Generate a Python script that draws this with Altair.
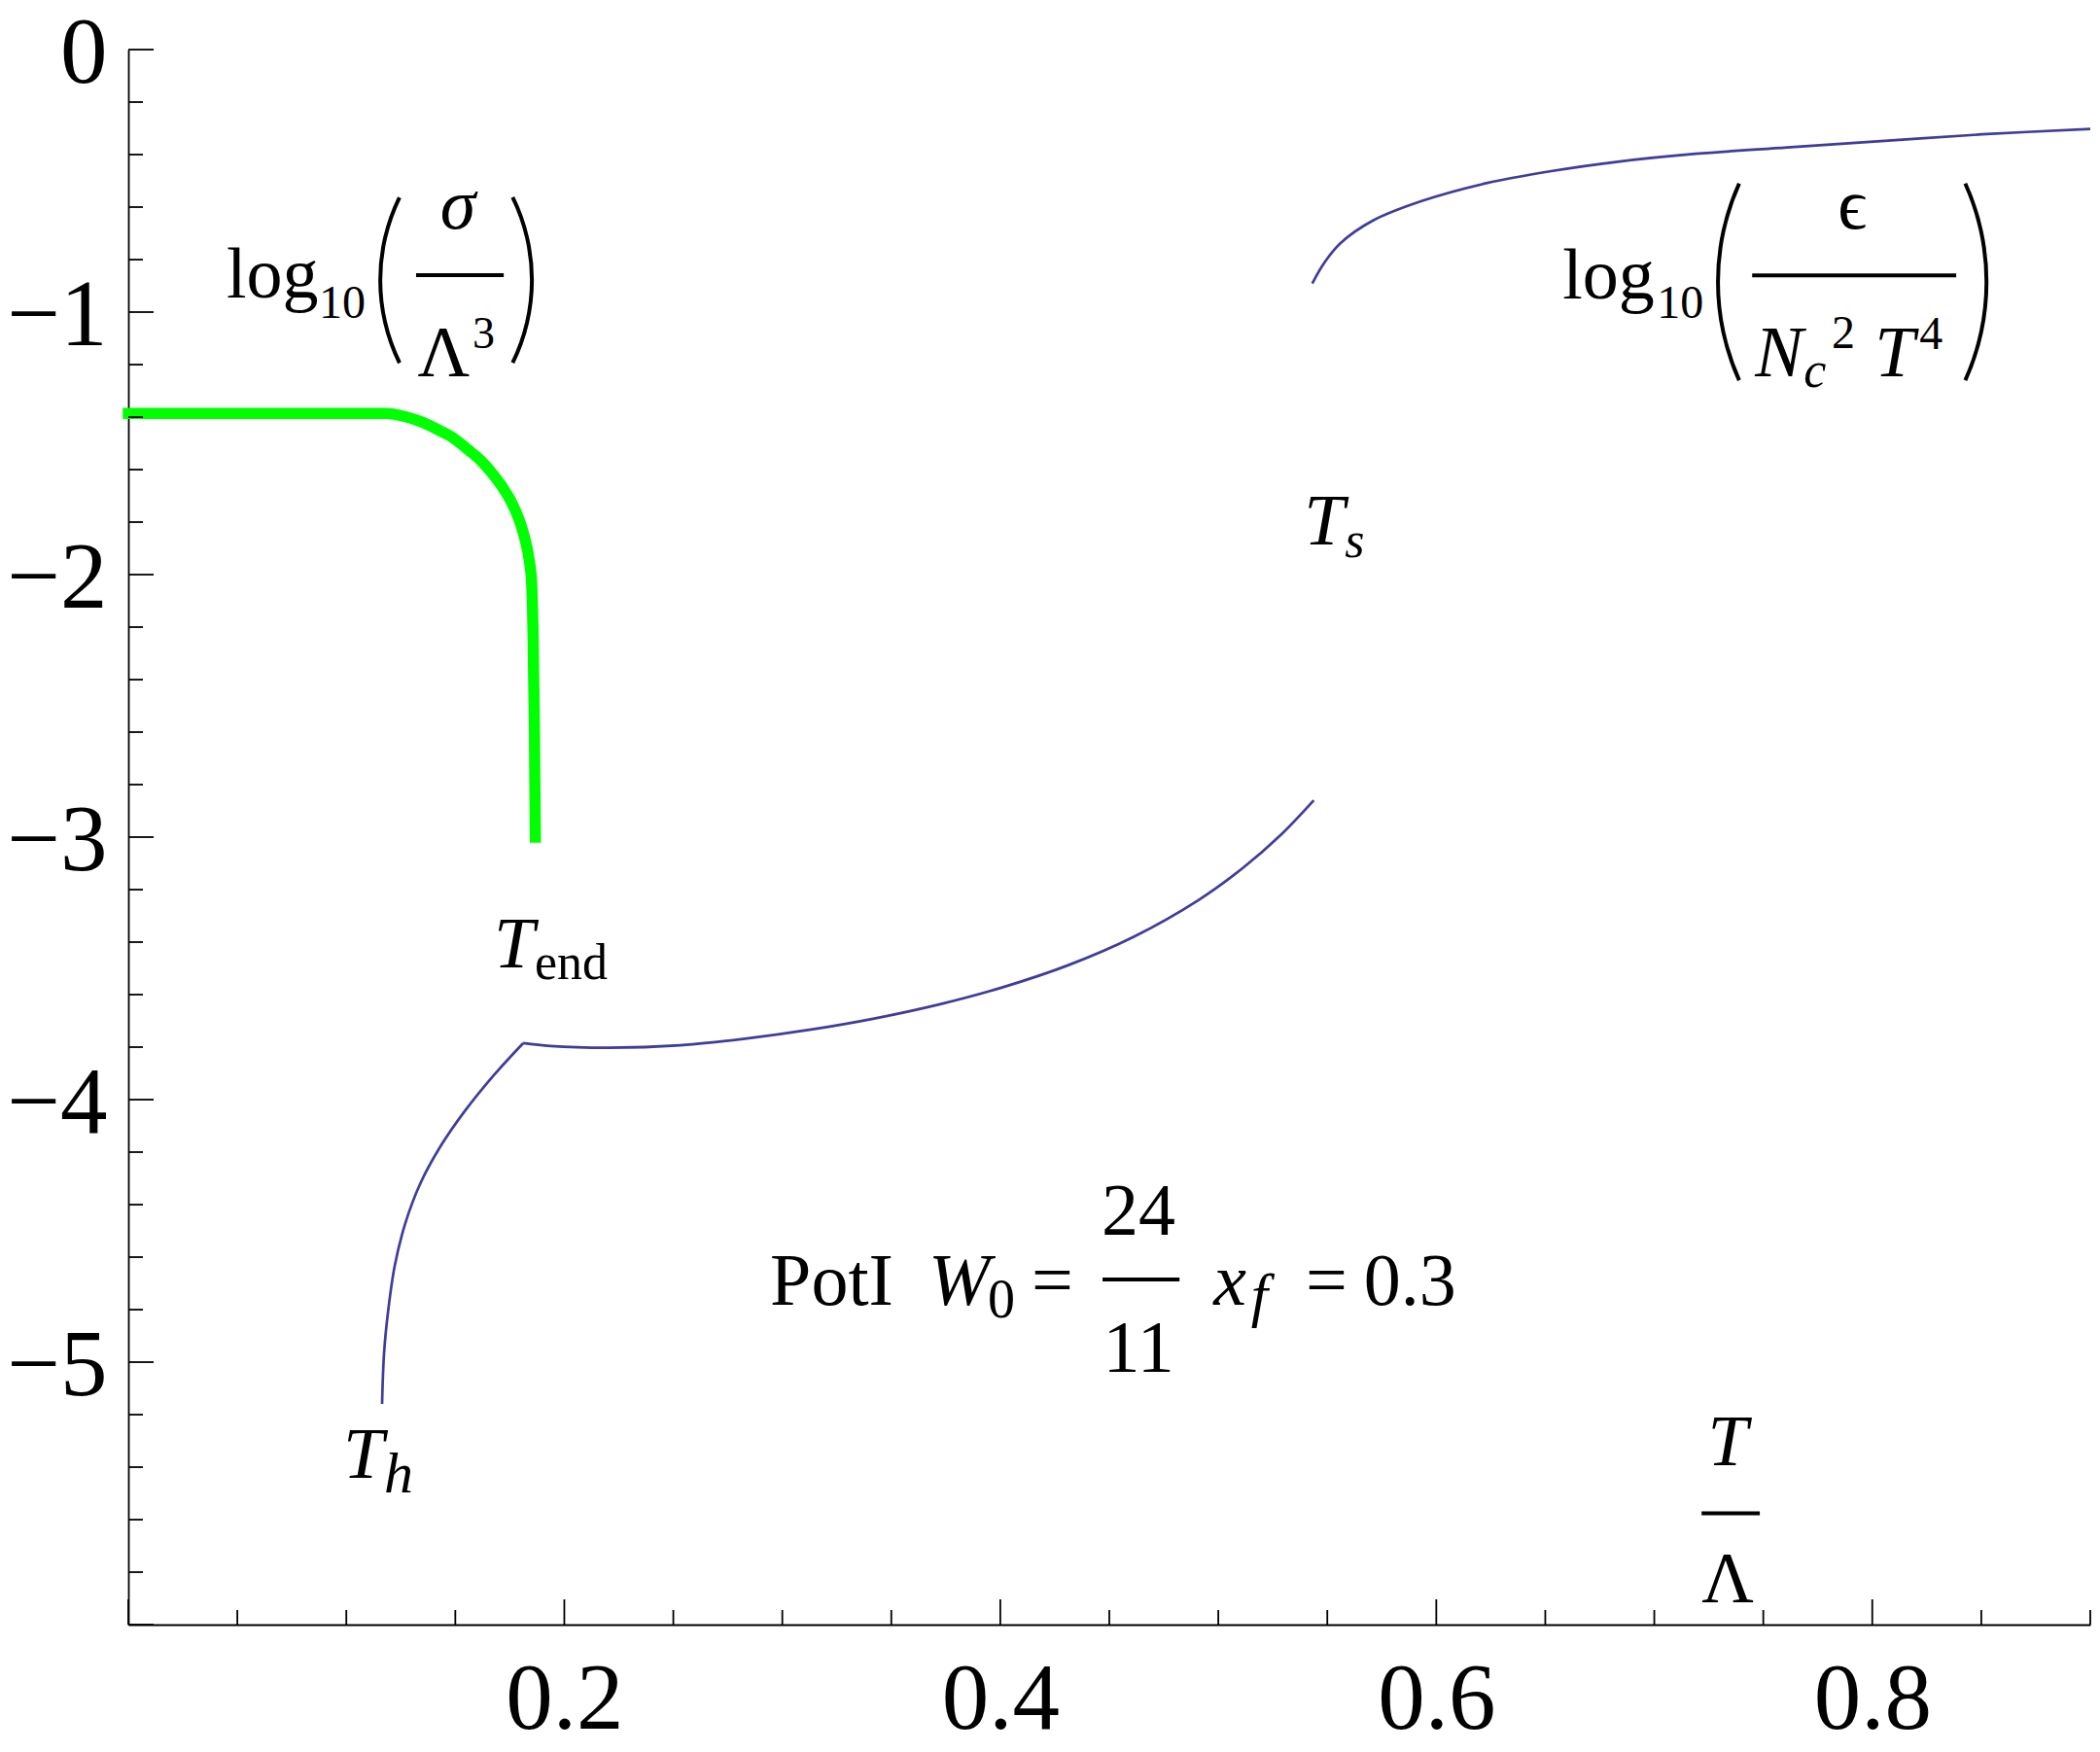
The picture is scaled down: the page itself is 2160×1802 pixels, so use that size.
import altair as alt
import pandas as pd

# ---------------- axis ticks / labels ----------------
x_tick_labels = [0.2, 0.4, 0.6, 0.8]
y_tick_labels = [0, -1, -2, -3, -4, -5]
x_major_ticks = [0.0, 0.2, 0.4, 0.6, 0.8]
x_minor_ticks = [0.05, 0.1, 0.15, 0.25, 0.3, 0.35, 0.45, 0.5, 0.55, 0.65, 0.7, 0.75, 0.85, 0.9]
y_major_ticks = [0, -1, -2, -3, -4, -5, -6]
y_minor_ticks = [-0.2, -0.4, -0.6, -0.8, -1.2, -1.4, -1.6, -1.8, -2.2, -2.4, -2.6, -2.8,
                 -3.2, -3.4, -3.6, -3.8, -4.2, -4.4, -4.6, -4.8, -5.2, -5.4, -5.6, -5.8]

# ---------------- curves (T/Lambda , log10 value) ----------------
sigma_x = [0.0, 0.04, 0.08, 0.118, 0.127, 0.135, 0.1425, 0.1495, 0.156, 0.162, 0.167, 0.1715,
           0.1755, 0.179, 0.1818, 0.1838, 0.185, 0.1857, 0.1863, 0.1867]
sigma_y = [-1.386, -1.386, -1.386, -1.386, -1.398, -1.42, -1.45, -1.482, -1.525, -1.568, -1.615,
           -1.665, -1.72, -1.785, -1.86, -1.94, -2.03, -2.24, -2.6, -3.0]

eps_h_x = [0.1164, 0.1173, 0.1191, 0.1222, 0.1271, 0.1338, 0.1432, 0.1543, 0.1668, 0.1811]
eps_h_y = [-5.159, -4.967, -4.811, -4.633, -4.470, -4.322, -4.178, -4.044, -3.915, -3.785]

eps_mid_x = [0.1811, 0.1937, 0.2204, 0.2531, 0.2828, 0.3125, 0.3422, 0.3719, 0.4016, 0.4313,
             0.461, 0.4907, 0.5114, 0.5289, 0.5438]
eps_mid_y = [-3.785, -3.796, -3.8025, -3.793, -3.768, -3.734, -3.691, -3.6375, -3.5707, -3.4875,
             -3.3805, -3.2409, -3.1167, -2.99, -2.86]

eps_up_x = [0.5431, 0.5487, 0.5561, 0.571, 0.5933, 0.623, 0.6527, 0.6824, 0.719, 0.7611,
            0.8057, 0.8503, 0.9]
eps_up_y = [-0.891, -0.811, -0.737, -0.651, -0.577, -0.509, -0.463, -0.428, -0.397, -0.373,
            -0.348, -0.323, -0.302]

# ---------------- layout / style ----------------
W, H = 2018, 1620
FONT = "Liberation Serif, DejaVu Serif, serif"
BLUE = "#3f3d99"
GREEN = "#00ff00"
MAJ, MIN = 26, 15

xs = alt.Scale(domain=[0, 0.9], nice=False, zero=False)
ys = alt.Scale(domain=[-6, 0], nice=False, zero=False)

x_axis = alt.Axis(values=x_tick_labels, format=".1f", title=None, ticks=False, grid=False,
                  domainColor="black", domainWidth=1.8, labelFont=FONT, labelFontSize=97,
                  labelColor="black", labelPadding=29, labelFlush=False, labelOverlap=False)
y_axis = alt.Axis(values=y_tick_labels, title=None, ticks=False, grid=False,
                  domainColor="black", domainWidth=1.8, labelFont=FONT, labelFontSize=97,
                  labelColor="black", labelPadding=22, labelOffset=4, labelFlush=False,
                  labelOverlap=False,
                  labelExpr="datum.value == 0 ? '0' : '\u2212' + format(-datum.value, 'd')")


def X(field="x"):
    return alt.X(f"{field}:Q", scale=xs, axis=x_axis)


def Y(field="y"):
    return alt.Y(f"{field}:Q", scale=ys, axis=y_axis)


# blue energy-density curve
rows = []
for name, xv, yv in [("h", eps_h_x, eps_h_y), ("mid", eps_mid_x, eps_mid_y), ("up", eps_up_x, eps_up_y)]:
    for i, (a, b) in enumerate(zip(xv, yv)):
        rows.append({"branch": name, "order": i, "x": a, "y": b})
blue_df = pd.DataFrame(rows)
blue = alt.Chart(blue_df).mark_line(color=BLUE, strokeWidth=2.7, interpolate="catmull-rom").encode(
    x=X(), y=Y(), detail="branch:N", order="order:Q")

green_df = pd.DataFrame({"x": sigma_x, "y": sigma_y, "order": list(range(len(sigma_x)))})
green = alt.Chart(green_df).mark_line(color=GREEN, strokeWidth=11.5, strokeCap="square",
                                      interpolate="monotone").encode(x=X(), y=Y(), order="order:Q")

# inward tick marks
xmaj = alt.Chart(pd.DataFrame({"x": x_major_ticks})).mark_rule(color="black", strokeWidth=1.8).encode(
    x=X(), y=alt.value(H), y2=alt.value(H - MAJ))
xmin = alt.Chart(pd.DataFrame({"x": x_minor_ticks})).mark_rule(color="black", strokeWidth=1.8).encode(
    x=X(), y=alt.value(H), y2=alt.value(H - MIN))
ymaj = alt.Chart(pd.DataFrame({"y": y_major_ticks})).mark_rule(color="black", strokeWidth=1.8).encode(
    y=Y(), x=alt.value(0), x2=alt.value(MAJ))
ymin = alt.Chart(pd.DataFrame({"y": y_minor_ticks})).mark_rule(color="black", strokeWidth=1.8).encode(
    y=Y(), x=alt.value(0), x2=alt.value(MIN))

# ---------------- annotations (anchored in data coordinates) ----------------
# (text, x, y-baseline, font size, italic, align)
annotations = [
    ("log", 0.0450, -0.944, 74, False, "left"),
    ("10", 0.0874, -1.022, 48, False, "left"),
    ("\u03c3", 0.1512, -0.681, 74, True, "center"),
    ("\u039b", 0.1447, -1.243, 74, False, "center"),
    ("3", 0.1579, -1.137, 46, False, "left"),
    ("log", 0.6579, -0.947, 74, False, "left"),
    ("10", 0.7012, -1.021, 48, False, "left"),
    ("\u03f5", 0.7908, -0.681, 74, False, "center"),
    ("N", 0.7462, -1.243, 74, True, "left"),
    ("c", 0.7685, -1.285, 52, True, "left"),
    ("2", 0.7814, -1.137, 48, False, "left"),
    ("T", 0.8011, -1.243, 74, True, "left"),
    ("4", 0.8216, -1.141, 48, False, "left"),
    ("T", 0.5393, -1.885, 75, True, "left"),
    ("s", 0.5580, -1.933, 52, True, "left"),
    ("T", 0.1677, -3.496, 75, True, "left"),
    ("end", 0.1864, -3.542, 52, False, "left"),
    ("T", 0.0986, -5.439, 75, True, "left"),
    ("h", 0.1173, -5.496, 60, True, "left"),
    ("PotI", 0.2944, -4.781, 76, False, "left"),
    ("W", 0.3671, -4.781, 76, True, "left"),
    ("0", 0.3943, -4.830, 56, False, "left"),
    ("=", 0.4239, -4.781, 76, False, "center"),
    ("24", 0.4634, -4.515, 76, False, "center"),
    ("11", 0.4634, -5.037, 76, False, "center"),
    ("x", 0.4978, -4.781, 76, True, "left"),
    ("f", 0.5150, -4.822, 62, True, "left"),
    ("=", 0.5497, -4.781, 76, False, "center"),
    ("0.3", 0.5879, -4.781, 76, False, "center"),
    ("T", 0.7337, -5.394, 74, True, "center"),
    ("\u039b", 0.7337, -5.915, 74, False, "center"),
]
ann_df = pd.DataFrame(annotations, columns=["text", "x", "y", "size", "italic", "align"])

text_layers = []
for (ital, align), sub in ann_df.groupby(["italic", "align"]):
    text_layers.append(
        alt.Chart(sub.reset_index(drop=True)).mark_text(
            align=align, baseline="alphabetic", font=FONT, color="black",
            fontStyle="italic" if ital else "normal").encode(
            x=X(), y=Y(), text="text:N", size=alt.Size("size:Q", scale=None, legend=None)))

# fraction bars
bars_df = pd.DataFrame({"x": [0.1320, 0.7449, 0.4469, 0.7217],
                        "x2": [0.1722, 0.8385, 0.4822, 0.7484],
                        "y": [-0.859, -0.860, -4.685, -5.576]})
bars = alt.Chart(bars_df).mark_rule(color="black", strokeWidth=4).encode(
    x=X(), x2="x2:Q", y=Y())

# tall parentheses drawn as thin circular arcs
paren_df = pd.DataFrame({
    "x": [0.2016, 0.0991, 0.8387, 0.7429],
    "y": [-0.878, -0.878, -0.885, -0.885],
    "t1": [4.255, 1.1138, 4.2876, 1.1460],
    "t2": [5.169, 2.0278, 5.1372, 1.9956],
    "r": [194.9, 194.9, 247.5, 247.5],
    "r2": [190.9, 190.9, 243.5, 243.5],
})
parens = alt.Chart(paren_df).mark_arc(color="black").encode(
    x=X(), y=Y(),
    theta=alt.Theta("t1:Q", scale=None, stack=False), theta2="t2:Q",
    radius=alt.Radius("r:Q", scale=None), radius2="r2:Q")

chart = alt.layer(blue, green, xmaj, xmin, ymaj, ymin, bars, parens, *text_layers).properties(
    width=W, height=H,
    autosize=alt.AutoSizeParams(type="none"),
    padding={"left": 124, "top": 43, "right": 2, "bottom": 118},
).configure(background="white").configure_view(stroke=None)

chart.save("out.html", embed_options={"renderer": "svg", "actions": False})
